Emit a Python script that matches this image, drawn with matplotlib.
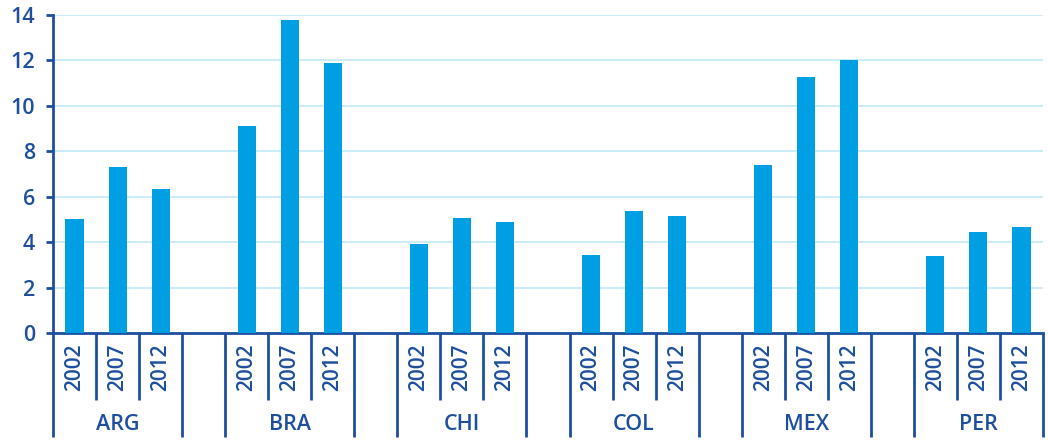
import matplotlib.pyplot as plt
import matplotlib.transforms as mtransforms
import numpy as np

plt.rcParams['font.family'] = ['Open Sans', 'DejaVu Sans']
plt.rcParams['font.weight'] = 'semibold'

# Data
countries = ['ARG', 'BRA', 'CHI', 'COL', 'MEX', 'PER']
years = ['2002', '2007', '2012']
v2002 = [5.0, 9.1, 3.9, 3.45, 7.4, 3.4]
v2007 = [7.3, 13.8, 5.05, 5.35, 11.25, 4.45]
v2012 = [6.35, 11.9, 4.9, 5.15, 12.0, 4.65]

bar_color = '#009fe3'
dark = '#1d4f9e'
grid_color = '#c4e9f8'

fig = plt.figure(figsize=(10.48, 4.46), dpi=100)
ax = fig.add_axes([53 / 1048, (446 - 333) / 446, 990 / 1048, 318 / 446])

series = [v2002, v2007, v2012]
for k, vals in enumerate(series):
    xs = np.arange(len(countries)) * 4 + k
    ax.bar(xs, vals, width=0.42, color=bar_color, zorder=3)

ax.set_xlim(-0.5, 4 * len(countries) - 1.5)
ax.set_ylim(0, 14)
ax.set_yticks(range(0, 15, 2))
ax.yaxis.grid(True, color=grid_color, linewidth=1.2, zorder=0)
ax.set_xticks([])

for side in ['top', 'right']:
    ax.spines[side].set_visible(False)
for side in ['left', 'bottom']:
    ax.spines[side].set_color(dark)
    ax.spines[side].set_linewidth(2)
ax.tick_params(axis='y', colors=dark, labelsize=15.5, length=5, width=2, pad=8)

trans = mtransforms.blended_transform_factory(ax.transData, ax.transAxes)
for g, name in enumerate(countries):
    base = 4 * g
    # long separators at group edges
    for x in [base - 0.5, base + 2.5]:
        ax.plot([x, x], [0, -0.327], transform=trans, color=dark, lw=2,
                clip_on=False, solid_capstyle='butt')
    # short separators between years
    for x in [base + 0.5, base + 1.5]:
        ax.plot([x, x], [0, -0.211], transform=trans, color=dark, lw=2,
                clip_on=False, solid_capstyle='butt')
    for k, yr in enumerate(years):
        ax.text(base + k, -0.107, yr, transform=trans, rotation=90,
                ha='center', va='center', color=dark, fontsize=15)
    ax.text(base + 1, -0.289, name, transform=trans, ha='center',
            va='center', color=dark, fontsize=15.5)

fig.savefig('out.png', dpi=100)
